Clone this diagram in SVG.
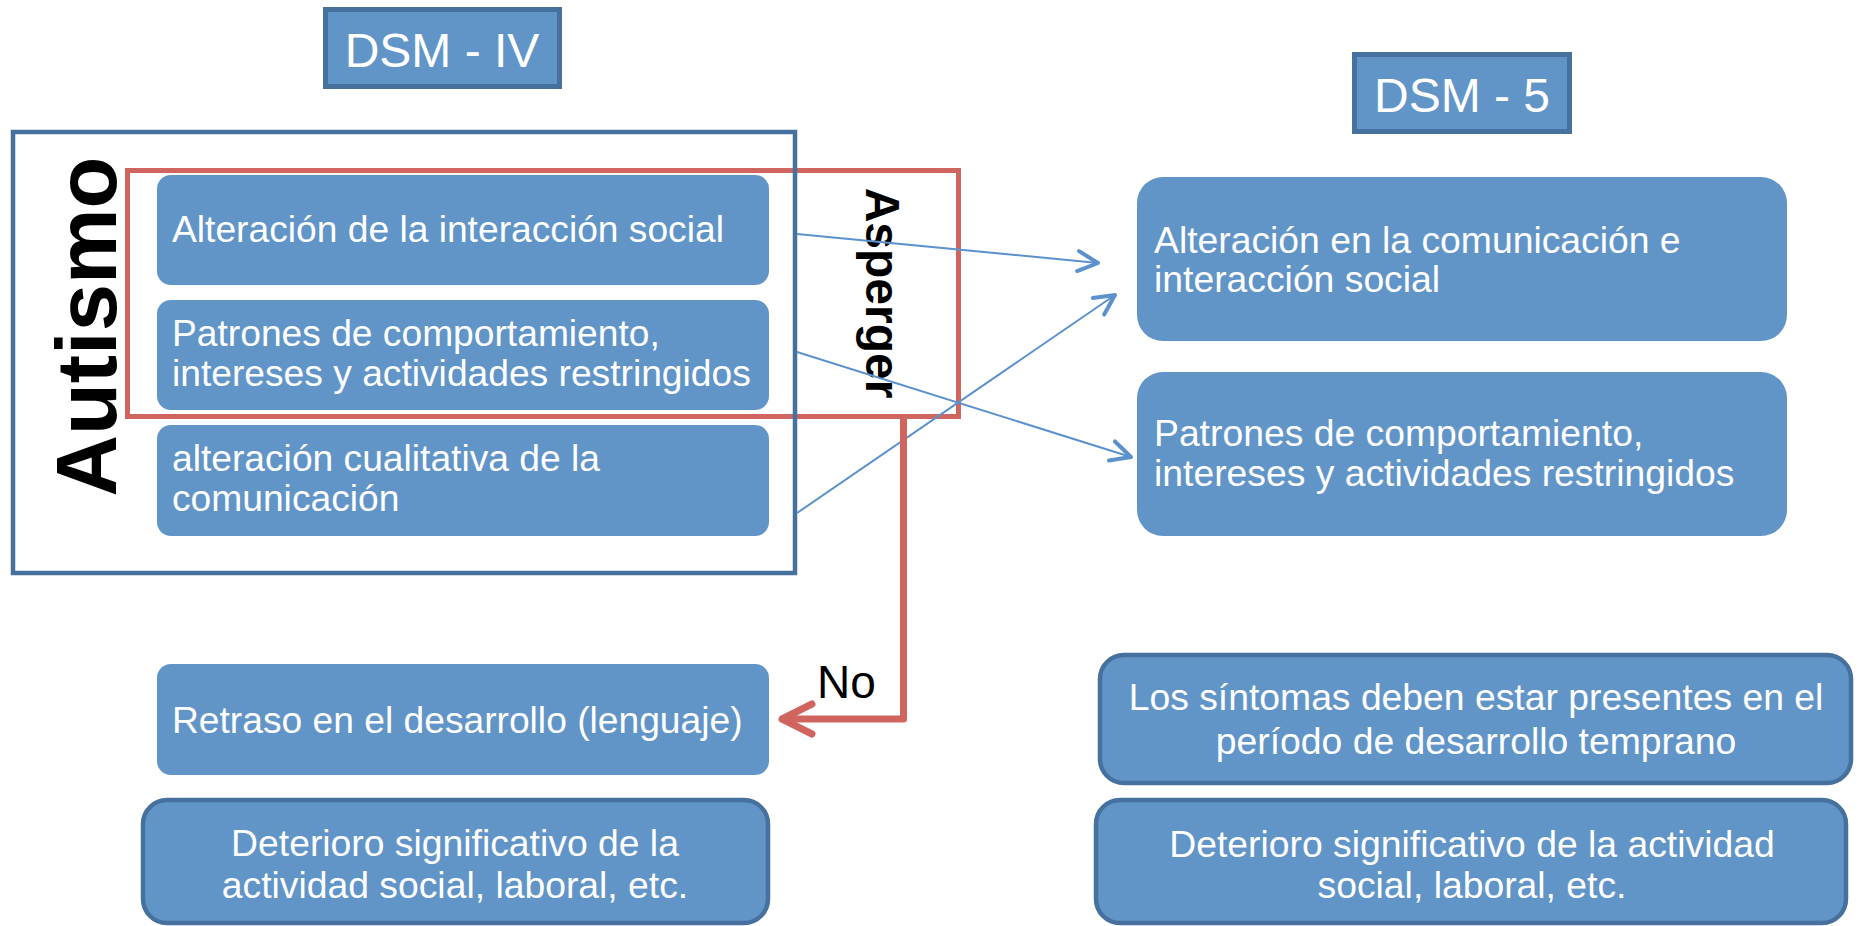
<svg xmlns="http://www.w3.org/2000/svg" width="1862" height="926" viewBox="0 0 1862 926">
  <style>
    .bx{fill:#6195c8}
    .bxs{fill:#6195c8;stroke:#46719f;stroke-width:4.5}
    .t{font-family:"Liberation Sans",Arial,sans-serif;fill:#ffffff}
    .tl{font-size:37.2px}
    .tr{font-size:37.3px}
    .th{font-size:48px}
    .blk{font-family:"Liberation Sans",Arial,sans-serif;fill:#000000}
    .conn{fill:none;stroke:#5b91cc;stroke-width:2}
    .red{fill:none;stroke:#d0655f;stroke-width:7;stroke-linejoin:round}
  </style>
  <defs>
    <marker id="ab" markerUnits="userSpaceOnUse" viewBox="-26 -16 32 32" markerWidth="32" markerHeight="32" refX="0" refY="0" orient="auto">
      <path d="M-20,-10 L0,0 L-20,10" fill="none" stroke="#5b91cc" stroke-width="4" stroke-linecap="round" stroke-linejoin="round"/>
    </marker>
    <marker id="ar" markerUnits="userSpaceOnUse" viewBox="-40 -22 48 44" markerWidth="48" markerHeight="44" refX="0" refY="0" orient="auto">
      <path d="M-30,-15 L0,0 L-30,15" fill="none" stroke="#d0655f" stroke-width="7" stroke-linecap="round" stroke-linejoin="round"/>
    </marker>
  </defs>
  <rect width="1862" height="926" fill="#ffffff"/>

  <g id="asperger-frame">
    <rect x="127.5" y="170.5" width="831" height="246" fill="none" stroke="#d0655f" stroke-width="5"/>
    <text class="blk" font-size="48" font-weight="bold" text-anchor="middle" transform="translate(866,293) rotate(90)">Asperger</text>
  </g>

  <g id="autismo-frame">
    <rect x="13" y="132" width="782" height="441" fill="none" stroke="#46719f" stroke-width="4.5"/>
    <text class="blk" font-size="85" font-weight="bold" text-anchor="middle" transform="translate(116,326.5) rotate(-90)">Autismo</text>
  </g>

  <g id="dsm-iv">
    <rect class="bxs" x="325.5" y="9.5" width="234" height="77" style="stroke-width:5"/>
    <text class="t th" x="442" y="67" text-anchor="middle">DSM - IV</text>
  </g>

  <g id="dsm-5">
    <rect class="bxs" x="1354.5" y="54.5" width="215" height="77" style="stroke-width:5"/>
    <text class="t th" x="1462" y="112" text-anchor="middle">DSM - 5</text>
  </g>

  <g id="l-interaccion">
    <rect class="bx" x="157" y="175" width="612" height="110" rx="14"/>
    <text class="t tl" x="172" y="242">Alteración de la interacción social</text>
  </g>

  <g id="l-patrones">
    <rect class="bx" x="157" y="300" width="612" height="110" rx="14"/>
    <text class="t tl" x="172" y="346">Patrones de comportamiento,</text>
    <text class="t tl" x="172" y="386">intereses y actividades restringidos</text>
  </g>

  <g id="l-comunicacion">
    <rect class="bx" x="157" y="425" width="612" height="111" rx="14"/>
    <text class="t tl" x="172" y="471">alteración cualitativa de la</text>
    <text class="t tl" x="172" y="511">comunicación</text>
  </g>

  <g id="l-retraso">
    <rect class="bx" x="157" y="664" width="612" height="111" rx="14"/>
    <text class="t tl" x="172" y="733">Retraso en el desarrollo (lenguaje)</text>
  </g>

  <g id="l-deterioro">
    <rect class="bxs" x="143" y="800" width="625" height="123" rx="24"/>
    <text class="t tr" x="455" y="856" text-anchor="middle">Deterioro significativo de la</text>
    <text class="t tr" x="455" y="898" text-anchor="middle">actividad social, laboral, etc.</text>
  </g>

  <g id="r-comunicacion">
    <rect class="bx" x="1137" y="177" width="650" height="164" rx="26"/>
    <text class="t tr" x="1154" y="253">Alteración en la comunicación e</text>
    <text class="t tr" x="1154" y="292">interacción social</text>
  </g>

  <g id="r-patrones">
    <rect class="bx" x="1137" y="372" width="650" height="164" rx="26"/>
    <text class="t tr" x="1154" y="446">Patrones de comportamiento,</text>
    <text class="t tr" x="1154" y="486">intereses y actividades restringidos</text>
  </g>

  <g id="r-sintomas">
    <rect class="bxs" x="1100" y="655" width="751" height="128" rx="24"/>
    <text class="t tr" x="1476" y="710" text-anchor="middle">Los síntomas deben estar presentes en el</text>
    <text class="t tr" x="1476" y="754" text-anchor="middle">período de desarrollo temprano</text>
  </g>

  <g id="r-deterioro">
    <rect class="bxs" x="1096" y="800" width="750" height="123" rx="24"/>
    <text class="t tr" x="1472" y="857" text-anchor="middle">Deterioro significativo de la actividad</text>
    <text class="t tr" x="1472" y="898" text-anchor="middle">social, laboral, etc.</text>
  </g>

  <g id="connectors">
    <line class="conn" x1="797" y1="234" x2="1098" y2="263" marker-end="url(#ab)"/>
    <line class="conn" x1="797" y1="352" x2="1131" y2="457" marker-end="url(#ab)"/>
    <line class="conn" x1="797" y1="513" x2="1115" y2="295" marker-end="url(#ab)"/>
    <path class="red" d="M903.5,419 V719 H782" marker-end="url(#ar)"/>
    <text class="blk" x="817" y="698" font-size="46">No</text>
  </g>
</svg>
